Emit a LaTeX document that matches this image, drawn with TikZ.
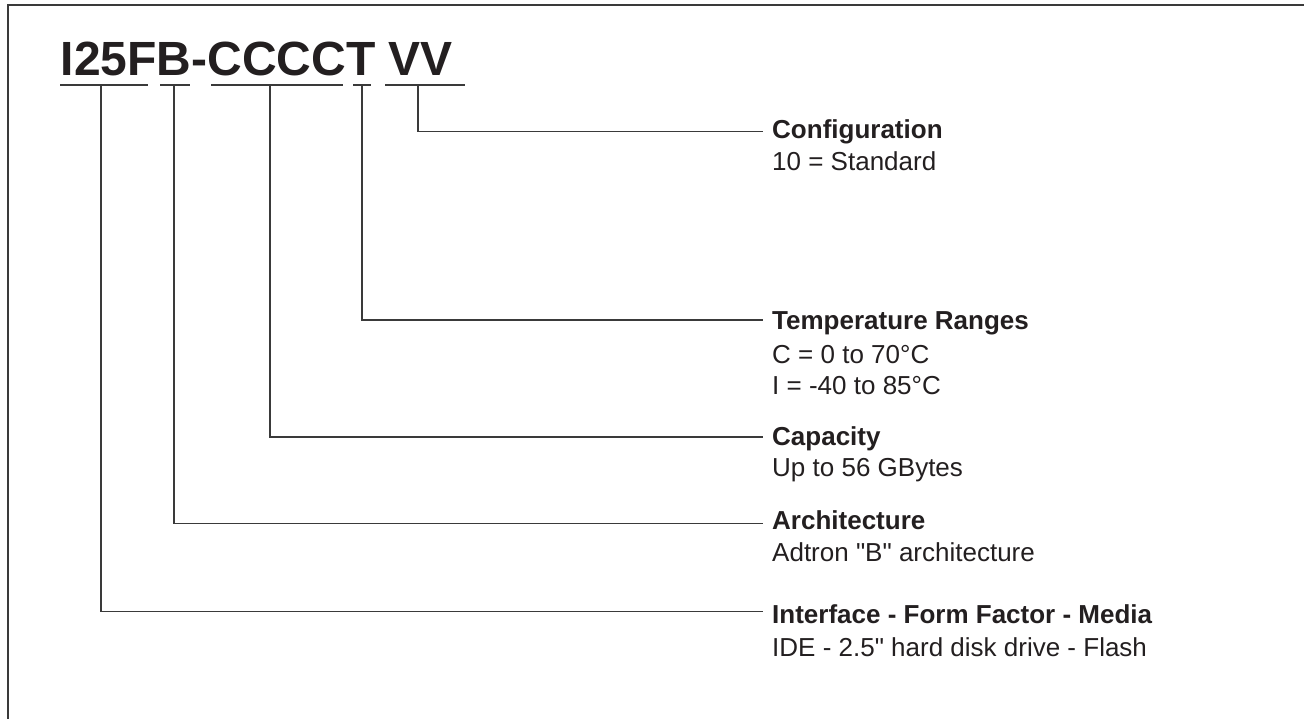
\documentclass[tikz,border=0pt]{standalone}
\usepackage{fontspec}
\newfontfamily\arial{Liberation Sans}
\definecolor{ink}{HTML}{231F20}
\definecolor{rule}{HTML}{3A3A3A}
\tikzset{
  head/.style={anchor=base west, inner sep=0pt, text=ink, font=\arial\fontsize{26}{31}\selectfont\bfseries},
  desc/.style={anchor=base west, inner sep=0pt, text=ink, font=\arial\fontsize{26}{31}\selectfont},
  title/.style={anchor=base west, inner sep=0pt, text=ink, font=\arial\fontsize{48}{50}\selectfont\bfseries},
  uline/.style={draw=rule, line width=1.4pt},
  conn/.style={draw=rule, line width=1.4pt},
  frame/.style={draw=rule, line width=2pt}
}
\begin{document}
\begin{tikzpicture}[x=1pt,y=-1pt]
\useasboundingbox (0,0) rectangle (1304,719);
\draw[frame] (1310,5.5) -- (7.5,5.5) -- (7.5,725);
\node[title] (code) at (60.5,75.5) {I25FB-CCCCT VV};
% underline segments
\coordinate (a1) at (60,85);  \coordinate (b1) at (148,85);
\coordinate (a2) at (160,85); \coordinate (b2) at (190,85);
\coordinate (a3) at (211,85); \coordinate (b3) at (343,85);
\coordinate (a4) at (353,85); \coordinate (b4) at (371,85);
\coordinate (a5) at (385,85); \coordinate (b5) at (465,85);
\draw[uline] (a1) -- (b1);
\draw[uline] (a2) -- (b2);
\draw[uline] (a3) -- (b3);
\draw[uline] (a4) -- (b4);
\draw[uline] (a5) -- (b5);
\coordinate (d1) at (101,85);
\coordinate (d2) at (174,85);
\coordinate (d3) at (270,85);
\coordinate (d4) at (362,85);
\coordinate (d5) at (418,85);
% labels
\node[head] (conf) at (772,139) {Configuration};
\node[desc] (confd) at (772,170.5) {10 = Standard};
\node[head] (temp) at (772,330) {Temperature Ranges};
\node[desc] (tempd) at (772,363) {C = 0 to 70°C};
\node[desc] (tempe) at (772,394) {I = -40 to 85°C};
\node[head] (cap) at (772,445) {Capacity};
\node[desc] (capd) at (772,476) {Up to 56 GBytes};
\node[head] (arch) at (772,529) {Architecture};
\node[desc] (archd) at (772,561) {Adtron "B" architecture};
\node[head] (intf) at (772,623) {Interface - Form Factor - Media};
\node[desc] (intfd) at (772,656) {IDE - 2.5" hard disk drive - Flash};
% connector ends
\coordinate (e5) at (763,131.7);
\coordinate (e4) at (763,320);
\coordinate (e3) at (763,437);
\coordinate (e2) at (763,523.3);
\coordinate (e1) at (763,611.7);
\draw[conn] (d5) |- (e5);
\draw[conn] (d4) |- (e4);
\draw[conn] (d3) |- (e3);
\draw[conn] (d2) |- (e2);
\draw[conn] (d1) |- (e1);
\end{tikzpicture}
\end{document}
